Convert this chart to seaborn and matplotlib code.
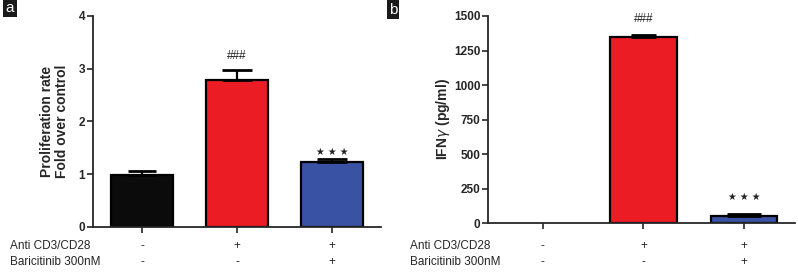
import matplotlib
matplotlib.use('Agg')
import matplotlib.pyplot as plt
import matplotlib.transforms as mtransforms
import seaborn as sns

# groups (same order in both panels)
groups = ['control', 'anti', 'anti_bari']
anti_row = ['-', '+', '+']
bari_row = ['-', '-', '+']
bar_colors = ['#0b0b0b', '#ec1c24', '#3a52a3']

# panel a: proliferation, fold over control
prolif_mean = [0.98, 2.78, 1.24]
prolif_err = [0.09, 0.19, 0.04]
prolif_marks = ['', '###', '★ ★ ★']

# panel b: IFN-gamma pg/ml
ifn_mean = [0, 1350, 50]
ifn_err = [0, 15, 15]
ifn_marks = ['', '###', '★ ★ ★']

sns.set_style('ticks')
plt.rcParams['font.family'] = ['Liberation Sans', 'DejaVu Sans']

fig = plt.figure(figsize=(7.98, 2.73), dpi=100)
ax_a = fig.add_axes([0.1165, 0.1685, 0.3609, 0.7729])
ax_b = fig.add_axes([0.6115, 0.1830, 0.3845, 0.7584])


def draw_panel(ax, means, errs, marks, width, xlim, ylim, yticks, ylabel, offs, caps, pad):
    sns.barplot(x=groups, y=means, hue=groups, palette=bar_colors, legend=False,
                saturation=1, width=width, edgecolor='black', linewidth=1.6, ax=ax)
    # no outline for an empty (zero) bar
    for p in ax.patches:
        if p.get_height() == 0:
            p.set_linewidth(0)
    for i, (m, e) in enumerate(zip(means, errs)):
        if e > 0:
            ax.errorbar(i, m, yerr=[[0], [e]], fmt='none', ecolor='black',
                        elinewidth=1.6, capsize=caps[i], capthick=2)
        if marks[i]:
            star = marks[i].startswith('★')
            ax.text(i, m + e + offs[i], marks[i], ha='center', va='bottom',
                    fontsize=7 if star else 8.5, color='#222222',
                    family=['DejaVu Sans'] if star else None)
    ax.set_xlim(*xlim)
    ax.set_ylim(*ylim)
    ax.set_yticks(yticks)
    ax.set_yticklabels([str(t) for t in yticks], fontsize=8.5, fontweight='bold')
    ax.set_xticks(range(len(groups)))
    ax.set_xticklabels([''] * len(groups))
    ax.set_xlabel('')
    ax.set_ylabel(ylabel, fontsize=10, fontweight='bold', linespacing=1.05, labelpad=pad)
    ax.tick_params(axis='both', direction='out', length=4, width=1.2, pad=1.5)
    for side in ['left', 'bottom']:
        ax.spines[side].set_linewidth(1.3)
    sns.despine(ax=ax)
    trans = mtransforms.blended_transform_factory(ax.transData, fig.transFigure)
    for i in range(len(groups)):
        ax.text(i, 0.099, anti_row[i], transform=trans, ha='center', va='center', fontsize=8.5)
        ax.text(i, 0.040, bari_row[i], transform=trans, ha='center', va='center', fontsize=8.5)


draw_panel(ax_a, prolif_mean, prolif_err, prolif_marks, 0.65, (-0.516, 2.516),
           (0, 4), [0, 1, 2, 3, 4], 'Proliferation rate\nFold over control',
           [0, 0.15, 0.04], [10, 10.5, 10.5], 7)
draw_panel(ax_b, ifn_mean, ifn_err, ifn_marks, 0.66, (-0.547, 2.507),
           (0, 1500), [0, 250, 500, 750, 1000, 1250, 1500], r'IFN$\gamma$ (pg/ml)',
           [0, 70, 90], [9, 9, 12], 1)

# treatment row labels
for x0 in [0.0125, 0.514]:
    fig.text(x0, 0.099, 'Anti CD3/CD28', ha='left', va='center', fontsize=8.5)
    fig.text(x0, 0.040, 'Baricitinib 300nM', ha='left', va='center', fontsize=8.5)

# panel letters
fig.text(0.0125, 0.97, 'a', ha='center', va='center', fontsize=11, color='white',
         bbox=dict(boxstyle='square,pad=0.15', fc='#1a1a1a', ec='none'))
fig.text(0.4925, 0.965, 'b', ha='center', va='center', fontsize=11, color='white',
         bbox=dict(boxstyle='square,pad=0.15', fc='#1a1a1a', ec='none'))

fig.savefig('out.png', dpi=100)
